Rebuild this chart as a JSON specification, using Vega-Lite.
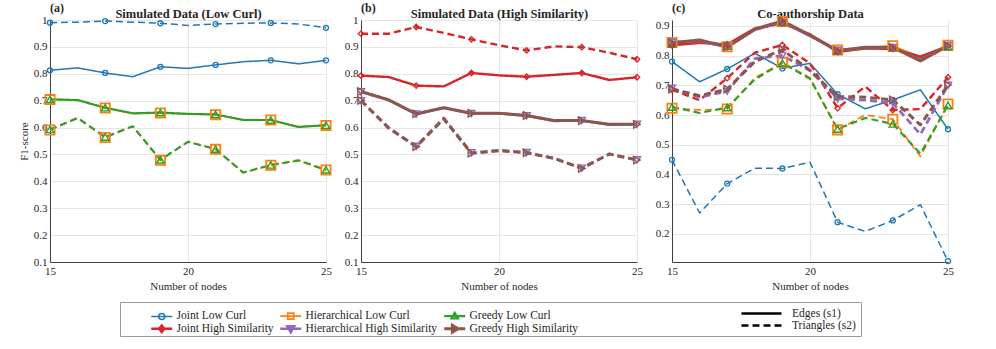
{
"$schema":"https://vega.github.io/schema/vega-lite/v6.json",
"padding":{"left":18,"top":2,"right":5,"bottom":5},
"background":"white",
"bounds":"flush",
"spacing":35,
"datasets":{
"a":[
{"x":15,"v":0.813,"s":"Joint Low Curl","m":"Edges (s1)"},{"x":16,"v":0.822,"s":"Joint Low Curl","m":"Edges (s1)"},{"x":17,"v":0.803,"s":"Joint Low Curl","m":"Edges (s1)"},{"x":18,"v":0.789,"s":"Joint Low Curl","m":"Edges (s1)"},{"x":19,"v":0.826,"s":"Joint Low Curl","m":"Edges (s1)"},{"x":20,"v":0.820,"s":"Joint Low Curl","m":"Edges (s1)"},{"x":21,"v":0.833,"s":"Joint Low Curl","m":"Edges (s1)"},{"x":22,"v":0.845,"s":"Joint Low Curl","m":"Edges (s1)"},{"x":23,"v":0.850,"s":"Joint Low Curl","m":"Edges (s1)"},{"x":24,"v":0.837,"s":"Joint Low Curl","m":"Edges (s1)"},{"x":25,"v":0.850,"s":"Joint Low Curl","m":"Edges (s1)"},
{"x":15,"v":0.990,"s":"Joint Low Curl","m":"Triangles (s2)"},{"x":16,"v":0.992,"s":"Joint Low Curl","m":"Triangles (s2)"},{"x":17,"v":0.996,"s":"Joint Low Curl","m":"Triangles (s2)"},{"x":18,"v":0.992,"s":"Joint Low Curl","m":"Triangles (s2)"},{"x":19,"v":0.988,"s":"Joint Low Curl","m":"Triangles (s2)"},{"x":20,"v":0.980,"s":"Joint Low Curl","m":"Triangles (s2)"},{"x":21,"v":0.985,"s":"Joint Low Curl","m":"Triangles (s2)"},{"x":22,"v":0.988,"s":"Joint Low Curl","m":"Triangles (s2)"},{"x":23,"v":0.989,"s":"Joint Low Curl","m":"Triangles (s2)"},{"x":24,"v":0.985,"s":"Joint Low Curl","m":"Triangles (s2)"},{"x":25,"v":0.971,"s":"Joint Low Curl","m":"Triangles (s2)"},
{"x":15,"v":0.704,"s":"Hierarchical Low Curl","m":"Edges (s1)"},{"x":16,"v":0.703,"s":"Hierarchical Low Curl","m":"Edges (s1)"},{"x":17,"v":0.673,"s":"Hierarchical Low Curl","m":"Edges (s1)"},{"x":18,"v":0.652,"s":"Hierarchical Low Curl","m":"Edges (s1)"},{"x":19,"v":0.654,"s":"Hierarchical Low Curl","m":"Edges (s1)"},{"x":20,"v":0.650,"s":"Hierarchical Low Curl","m":"Edges (s1)"},{"x":21,"v":0.648,"s":"Hierarchical Low Curl","m":"Edges (s1)"},{"x":22,"v":0.629,"s":"Hierarchical Low Curl","m":"Edges (s1)"},{"x":23,"v":0.628,"s":"Hierarchical Low Curl","m":"Edges (s1)"},{"x":24,"v":0.603,"s":"Hierarchical Low Curl","m":"Edges (s1)"},{"x":25,"v":0.608,"s":"Hierarchical Low Curl","m":"Edges (s1)"},
{"x":15,"v":0.591,"s":"Hierarchical Low Curl","m":"Triangles (s2)"},{"x":16,"v":0.635,"s":"Hierarchical Low Curl","m":"Triangles (s2)"},{"x":17,"v":0.563,"s":"Hierarchical Low Curl","m":"Triangles (s2)"},{"x":18,"v":0.604,"s":"Hierarchical Low Curl","m":"Triangles (s2)"},{"x":19,"v":0.478,"s":"Hierarchical Low Curl","m":"Triangles (s2)"},{"x":20,"v":0.548,"s":"Hierarchical Low Curl","m":"Triangles (s2)"},{"x":21,"v":0.519,"s":"Hierarchical Low Curl","m":"Triangles (s2)"},{"x":22,"v":0.432,"s":"Hierarchical Low Curl","m":"Triangles (s2)"},{"x":23,"v":0.460,"s":"Hierarchical Low Curl","m":"Triangles (s2)"},{"x":24,"v":0.477,"s":"Hierarchical Low Curl","m":"Triangles (s2)"},{"x":25,"v":0.442,"s":"Hierarchical Low Curl","m":"Triangles (s2)"},
{"x":15,"v":0.705,"s":"Greedy Low Curl","m":"Edges (s1)"},{"x":16,"v":0.702,"s":"Greedy Low Curl","m":"Edges (s1)"},{"x":17,"v":0.674,"s":"Greedy Low Curl","m":"Edges (s1)"},{"x":18,"v":0.653,"s":"Greedy Low Curl","m":"Edges (s1)"},{"x":19,"v":0.656,"s":"Greedy Low Curl","m":"Edges (s1)"},{"x":20,"v":0.651,"s":"Greedy Low Curl","m":"Edges (s1)"},{"x":21,"v":0.649,"s":"Greedy Low Curl","m":"Edges (s1)"},{"x":22,"v":0.628,"s":"Greedy Low Curl","m":"Edges (s1)"},{"x":23,"v":0.628,"s":"Greedy Low Curl","m":"Edges (s1)"},{"x":24,"v":0.602,"s":"Greedy Low Curl","m":"Edges (s1)"},{"x":25,"v":0.609,"s":"Greedy Low Curl","m":"Edges (s1)"},
{"x":15,"v":0.593,"s":"Greedy Low Curl","m":"Triangles (s2)"},{"x":16,"v":0.636,"s":"Greedy Low Curl","m":"Triangles (s2)"},{"x":17,"v":0.565,"s":"Greedy Low Curl","m":"Triangles (s2)"},{"x":18,"v":0.605,"s":"Greedy Low Curl","m":"Triangles (s2)"},{"x":19,"v":0.480,"s":"Greedy Low Curl","m":"Triangles (s2)"},{"x":20,"v":0.547,"s":"Greedy Low Curl","m":"Triangles (s2)"},{"x":21,"v":0.520,"s":"Greedy Low Curl","m":"Triangles (s2)"},{"x":22,"v":0.433,"s":"Greedy Low Curl","m":"Triangles (s2)"},{"x":23,"v":0.461,"s":"Greedy Low Curl","m":"Triangles (s2)"},{"x":24,"v":0.478,"s":"Greedy Low Curl","m":"Triangles (s2)"},{"x":25,"v":0.443,"s":"Greedy Low Curl","m":"Triangles (s2)"}
],
"b":[
{"x":15,"v":0.793,"s":"Joint High Similarity","m":"Edges (s1)"},{"x":16,"v":0.788,"s":"Joint High Similarity","m":"Edges (s1)"},{"x":17,"v":0.756,"s":"Joint High Similarity","m":"Edges (s1)"},{"x":18,"v":0.753,"s":"Joint High Similarity","m":"Edges (s1)"},{"x":19,"v":0.803,"s":"Joint High Similarity","m":"Edges (s1)"},{"x":20,"v":0.794,"s":"Joint High Similarity","m":"Edges (s1)"},{"x":21,"v":0.789,"s":"Joint High Similarity","m":"Edges (s1)"},{"x":22,"v":0.796,"s":"Joint High Similarity","m":"Edges (s1)"},{"x":23,"v":0.803,"s":"Joint High Similarity","m":"Edges (s1)"},{"x":24,"v":0.777,"s":"Joint High Similarity","m":"Edges (s1)"},{"x":25,"v":0.787,"s":"Joint High Similarity","m":"Edges (s1)"},
{"x":15,"v":0.949,"s":"Joint High Similarity","m":"Triangles (s2)"},{"x":16,"v":0.949,"s":"Joint High Similarity","m":"Triangles (s2)"},{"x":17,"v":0.974,"s":"Joint High Similarity","m":"Triangles (s2)"},{"x":18,"v":0.952,"s":"Joint High Similarity","m":"Triangles (s2)"},{"x":19,"v":0.928,"s":"Joint High Similarity","m":"Triangles (s2)"},{"x":20,"v":0.906,"s":"Joint High Similarity","m":"Triangles (s2)"},{"x":21,"v":0.887,"s":"Joint High Similarity","m":"Triangles (s2)"},{"x":22,"v":0.902,"s":"Joint High Similarity","m":"Triangles (s2)"},{"x":23,"v":0.899,"s":"Joint High Similarity","m":"Triangles (s2)"},{"x":24,"v":0.878,"s":"Joint High Similarity","m":"Triangles (s2)"},{"x":25,"v":0.854,"s":"Joint High Similarity","m":"Triangles (s2)"},
{"x":15,"v":0.733,"s":"Hierarchical High Similarity","m":"Edges (s1)"},{"x":16,"v":0.703,"s":"Hierarchical High Similarity","m":"Edges (s1)"},{"x":17,"v":0.650,"s":"Hierarchical High Similarity","m":"Edges (s1)"},{"x":18,"v":0.673,"s":"Hierarchical High Similarity","m":"Edges (s1)"},{"x":19,"v":0.652,"s":"Hierarchical High Similarity","m":"Edges (s1)"},{"x":20,"v":0.653,"s":"Hierarchical High Similarity","m":"Edges (s1)"},{"x":21,"v":0.644,"s":"Hierarchical High Similarity","m":"Edges (s1)"},{"x":22,"v":0.625,"s":"Hierarchical High Similarity","m":"Edges (s1)"},{"x":23,"v":0.626,"s":"Hierarchical High Similarity","m":"Edges (s1)"},{"x":24,"v":0.611,"s":"Hierarchical High Similarity","m":"Edges (s1)"},{"x":25,"v":0.612,"s":"Hierarchical High Similarity","m":"Edges (s1)"},
{"x":15,"v":0.700,"s":"Hierarchical High Similarity","m":"Triangles (s2)"},{"x":16,"v":0.600,"s":"Hierarchical High Similarity","m":"Triangles (s2)"},{"x":17,"v":0.530,"s":"Hierarchical High Similarity","m":"Triangles (s2)"},{"x":18,"v":0.636,"s":"Hierarchical High Similarity","m":"Triangles (s2)"},{"x":19,"v":0.506,"s":"Hierarchical High Similarity","m":"Triangles (s2)"},{"x":20,"v":0.516,"s":"Hierarchical High Similarity","m":"Triangles (s2)"},{"x":21,"v":0.507,"s":"Hierarchical High Similarity","m":"Triangles (s2)"},{"x":22,"v":0.486,"s":"Hierarchical High Similarity","m":"Triangles (s2)"},{"x":23,"v":0.449,"s":"Hierarchical High Similarity","m":"Triangles (s2)"},{"x":24,"v":0.501,"s":"Hierarchical High Similarity","m":"Triangles (s2)"},{"x":25,"v":0.480,"s":"Hierarchical High Similarity","m":"Triangles (s2)"},
{"x":15,"v":0.734,"s":"Greedy High Similarity","m":"Edges (s1)"},{"x":16,"v":0.703,"s":"Greedy High Similarity","m":"Edges (s1)"},{"x":17,"v":0.651,"s":"Greedy High Similarity","m":"Edges (s1)"},{"x":18,"v":0.674,"s":"Greedy High Similarity","m":"Edges (s1)"},{"x":19,"v":0.653,"s":"Greedy High Similarity","m":"Edges (s1)"},{"x":20,"v":0.653,"s":"Greedy High Similarity","m":"Edges (s1)"},{"x":21,"v":0.645,"s":"Greedy High Similarity","m":"Edges (s1)"},{"x":22,"v":0.626,"s":"Greedy High Similarity","m":"Edges (s1)"},{"x":23,"v":0.626,"s":"Greedy High Similarity","m":"Edges (s1)"},{"x":24,"v":0.612,"s":"Greedy High Similarity","m":"Edges (s1)"},{"x":25,"v":0.612,"s":"Greedy High Similarity","m":"Edges (s1)"},
{"x":15,"v":0.701,"s":"Greedy High Similarity","m":"Triangles (s2)"},{"x":16,"v":0.598,"s":"Greedy High Similarity","m":"Triangles (s2)"},{"x":17,"v":0.529,"s":"Greedy High Similarity","m":"Triangles (s2)"},{"x":18,"v":0.632,"s":"Greedy High Similarity","m":"Triangles (s2)"},{"x":19,"v":0.504,"s":"Greedy High Similarity","m":"Triangles (s2)"},{"x":20,"v":0.514,"s":"Greedy High Similarity","m":"Triangles (s2)"},{"x":21,"v":0.506,"s":"Greedy High Similarity","m":"Triangles (s2)"},{"x":22,"v":0.485,"s":"Greedy High Similarity","m":"Triangles (s2)"},{"x":23,"v":0.448,"s":"Greedy High Similarity","m":"Triangles (s2)"},{"x":24,"v":0.502,"s":"Greedy High Similarity","m":"Triangles (s2)"},{"x":25,"v":0.479,"s":"Greedy High Similarity","m":"Triangles (s2)"}
],
"c":[
{"x":15,"v":0.780,"s":"Joint Low Curl","m":"Edges (s1)"},{"x":16,"v":0.712,"s":"Joint Low Curl","m":"Edges (s1)"},{"x":17,"v":0.755,"s":"Joint Low Curl","m":"Edges (s1)"},{"x":18,"v":0.808,"s":"Joint Low Curl","m":"Edges (s1)"},{"x":19,"v":0.757,"s":"Joint Low Curl","m":"Edges (s1)"},{"x":20,"v":0.774,"s":"Joint Low Curl","m":"Edges (s1)"},{"x":21,"v":0.670,"s":"Joint Low Curl","m":"Edges (s1)"},{"x":22,"v":0.621,"s":"Joint Low Curl","m":"Edges (s1)"},{"x":23,"v":0.651,"s":"Joint Low Curl","m":"Edges (s1)"},{"x":24,"v":0.685,"s":"Joint Low Curl","m":"Edges (s1)"},{"x":25,"v":0.552,"s":"Joint Low Curl","m":"Edges (s1)"},
{"x":15,"v":0.449,"s":"Joint Low Curl","m":"Triangles (s2)"},{"x":16,"v":0.270,"s":"Joint Low Curl","m":"Triangles (s2)"},{"x":17,"v":0.369,"s":"Joint Low Curl","m":"Triangles (s2)"},{"x":18,"v":0.421,"s":"Joint Low Curl","m":"Triangles (s2)"},{"x":19,"v":0.420,"s":"Joint Low Curl","m":"Triangles (s2)"},{"x":20,"v":0.441,"s":"Joint Low Curl","m":"Triangles (s2)"},{"x":21,"v":0.239,"s":"Joint Low Curl","m":"Triangles (s2)"},{"x":22,"v":0.208,"s":"Joint Low Curl","m":"Triangles (s2)"},{"x":23,"v":0.245,"s":"Joint Low Curl","m":"Triangles (s2)"},{"x":24,"v":0.298,"s":"Joint Low Curl","m":"Triangles (s2)"},{"x":25,"v":0.108,"s":"Joint Low Curl","m":"Triangles (s2)"},
{"x":15,"v":0.844,"s":"Hierarchical Low Curl","m":"Edges (s1)"},{"x":16,"v":0.848,"s":"Hierarchical Low Curl","m":"Edges (s1)"},{"x":17,"v":0.830,"s":"Hierarchical Low Curl","m":"Edges (s1)"},{"x":18,"v":0.890,"s":"Hierarchical Low Curl","m":"Edges (s1)"},{"x":19,"v":0.915,"s":"Hierarchical Low Curl","m":"Edges (s1)"},{"x":20,"v":0.870,"s":"Hierarchical Low Curl","m":"Edges (s1)"},{"x":21,"v":0.819,"s":"Hierarchical Low Curl","m":"Edges (s1)"},{"x":22,"v":0.826,"s":"Hierarchical Low Curl","m":"Edges (s1)"},{"x":23,"v":0.833,"s":"Hierarchical Low Curl","m":"Edges (s1)"},{"x":24,"v":0.795,"s":"Hierarchical Low Curl","m":"Edges (s1)"},{"x":25,"v":0.835,"s":"Hierarchical Low Curl","m":"Edges (s1)"},
{"x":15,"v":0.623,"s":"Hierarchical Low Curl","m":"Triangles (s2)"},{"x":16,"v":0.617,"s":"Hierarchical Low Curl","m":"Triangles (s2)"},{"x":17,"v":0.620,"s":"Hierarchical Low Curl","m":"Triangles (s2)"},{"x":18,"v":0.725,"s":"Hierarchical Low Curl","m":"Triangles (s2)"},{"x":19,"v":0.777,"s":"Hierarchical Low Curl","m":"Triangles (s2)"},{"x":20,"v":0.725,"s":"Hierarchical Low Curl","m":"Triangles (s2)"},{"x":21,"v":0.550,"s":"Hierarchical Low Curl","m":"Triangles (s2)"},{"x":22,"v":0.600,"s":"Hierarchical Low Curl","m":"Triangles (s2)"},{"x":23,"v":0.586,"s":"Hierarchical Low Curl","m":"Triangles (s2)"},{"x":24,"v":0.460,"s":"Hierarchical Low Curl","m":"Triangles (s2)"},{"x":25,"v":0.637,"s":"Hierarchical Low Curl","m":"Triangles (s2)"},
{"x":15,"v":0.840,"s":"Greedy Low Curl","m":"Edges (s1)"},{"x":16,"v":0.845,"s":"Greedy Low Curl","m":"Edges (s1)"},{"x":17,"v":0.832,"s":"Greedy Low Curl","m":"Edges (s1)"},{"x":18,"v":0.888,"s":"Greedy Low Curl","m":"Edges (s1)"},{"x":19,"v":0.912,"s":"Greedy Low Curl","m":"Edges (s1)"},{"x":20,"v":0.868,"s":"Greedy Low Curl","m":"Edges (s1)"},{"x":21,"v":0.815,"s":"Greedy Low Curl","m":"Edges (s1)"},{"x":22,"v":0.823,"s":"Greedy Low Curl","m":"Edges (s1)"},{"x":23,"v":0.826,"s":"Greedy Low Curl","m":"Edges (s1)"},{"x":24,"v":0.790,"s":"Greedy Low Curl","m":"Edges (s1)"},{"x":25,"v":0.830,"s":"Greedy Low Curl","m":"Edges (s1)"},
{"x":15,"v":0.627,"s":"Greedy Low Curl","m":"Triangles (s2)"},{"x":16,"v":0.607,"s":"Greedy Low Curl","m":"Triangles (s2)"},{"x":17,"v":0.625,"s":"Greedy Low Curl","m":"Triangles (s2)"},{"x":18,"v":0.720,"s":"Greedy Low Curl","m":"Triangles (s2)"},{"x":19,"v":0.775,"s":"Greedy Low Curl","m":"Triangles (s2)"},{"x":20,"v":0.722,"s":"Greedy Low Curl","m":"Triangles (s2)"},{"x":21,"v":0.553,"s":"Greedy Low Curl","m":"Triangles (s2)"},{"x":22,"v":0.590,"s":"Greedy Low Curl","m":"Triangles (s2)"},{"x":23,"v":0.570,"s":"Greedy Low Curl","m":"Triangles (s2)"},{"x":24,"v":0.470,"s":"Greedy Low Curl","m":"Triangles (s2)"},{"x":25,"v":0.633,"s":"Greedy Low Curl","m":"Triangles (s2)"},
{"x":15,"v":0.835,"s":"Joint High Similarity","m":"Edges (s1)"},{"x":16,"v":0.843,"s":"Joint High Similarity","m":"Edges (s1)"},{"x":17,"v":0.838,"s":"Joint High Similarity","m":"Edges (s1)"},{"x":18,"v":0.892,"s":"Joint High Similarity","m":"Edges (s1)"},{"x":19,"v":0.908,"s":"Joint High Similarity","m":"Edges (s1)"},{"x":20,"v":0.872,"s":"Joint High Similarity","m":"Edges (s1)"},{"x":21,"v":0.812,"s":"Joint High Similarity","m":"Edges (s1)"},{"x":22,"v":0.825,"s":"Joint High Similarity","m":"Edges (s1)"},{"x":23,"v":0.822,"s":"Joint High Similarity","m":"Edges (s1)"},{"x":24,"v":0.797,"s":"Joint High Similarity","m":"Edges (s1)"},{"x":25,"v":0.832,"s":"Joint High Similarity","m":"Edges (s1)"},
{"x":15,"v":0.685,"s":"Joint High Similarity","m":"Triangles (s2)"},{"x":16,"v":0.650,"s":"Joint High Similarity","m":"Triangles (s2)"},{"x":17,"v":0.724,"s":"Joint High Similarity","m":"Triangles (s2)"},{"x":18,"v":0.810,"s":"Joint High Similarity","m":"Triangles (s2)"},{"x":19,"v":0.836,"s":"Joint High Similarity","m":"Triangles (s2)"},{"x":20,"v":0.774,"s":"Joint High Similarity","m":"Triangles (s2)"},{"x":21,"v":0.623,"s":"Joint High Similarity","m":"Triangles (s2)"},{"x":22,"v":0.696,"s":"Joint High Similarity","m":"Triangles (s2)"},{"x":23,"v":0.617,"s":"Joint High Similarity","m":"Triangles (s2)"},{"x":24,"v":0.620,"s":"Joint High Similarity","m":"Triangles (s2)"},{"x":25,"v":0.727,"s":"Joint High Similarity","m":"Triangles (s2)"},
{"x":15,"v":0.845,"s":"Hierarchical High Similarity","m":"Edges (s1)"},{"x":16,"v":0.850,"s":"Hierarchical High Similarity","m":"Edges (s1)"},{"x":17,"v":0.828,"s":"Hierarchical High Similarity","m":"Edges (s1)"},{"x":18,"v":0.887,"s":"Hierarchical High Similarity","m":"Edges (s1)"},{"x":19,"v":0.913,"s":"Hierarchical High Similarity","m":"Edges (s1)"},{"x":20,"v":0.866,"s":"Hierarchical High Similarity","m":"Edges (s1)"},{"x":21,"v":0.818,"s":"Hierarchical High Similarity","m":"Edges (s1)"},{"x":22,"v":0.827,"s":"Hierarchical High Similarity","m":"Edges (s1)"},{"x":23,"v":0.827,"s":"Hierarchical High Similarity","m":"Edges (s1)"},{"x":24,"v":0.785,"s":"Hierarchical High Similarity","m":"Edges (s1)"},{"x":25,"v":0.834,"s":"Hierarchical High Similarity","m":"Edges (s1)"},
{"x":15,"v":0.690,"s":"Hierarchical High Similarity","m":"Triangles (s2)"},{"x":16,"v":0.660,"s":"Hierarchical High Similarity","m":"Triangles (s2)"},{"x":17,"v":0.680,"s":"Hierarchical High Similarity","m":"Triangles (s2)"},{"x":18,"v":0.790,"s":"Hierarchical High Similarity","m":"Triangles (s2)"},{"x":19,"v":0.800,"s":"Hierarchical High Similarity","m":"Triangles (s2)"},{"x":20,"v":0.750,"s":"Hierarchical High Similarity","m":"Triangles (s2)"},{"x":21,"v":0.655,"s":"Hierarchical High Similarity","m":"Triangles (s2)"},{"x":22,"v":0.650,"s":"Hierarchical High Similarity","m":"Triangles (s2)"},{"x":23,"v":0.640,"s":"Hierarchical High Similarity","m":"Triangles (s2)"},{"x":24,"v":0.535,"s":"Hierarchical High Similarity","m":"Triangles (s2)"},{"x":25,"v":0.700,"s":"Hierarchical High Similarity","m":"Triangles (s2)"},
{"x":15,"v":0.843,"s":"Greedy High Similarity","m":"Edges (s1)"},{"x":16,"v":0.853,"s":"Greedy High Similarity","m":"Edges (s1)"},{"x":17,"v":0.830,"s":"Greedy High Similarity","m":"Edges (s1)"},{"x":18,"v":0.889,"s":"Greedy High Similarity","m":"Edges (s1)"},{"x":19,"v":0.917,"s":"Greedy High Similarity","m":"Edges (s1)"},{"x":20,"v":0.869,"s":"Greedy High Similarity","m":"Edges (s1)"},{"x":21,"v":0.817,"s":"Greedy High Similarity","m":"Edges (s1)"},{"x":22,"v":0.828,"s":"Greedy High Similarity","m":"Edges (s1)"},{"x":23,"v":0.828,"s":"Greedy High Similarity","m":"Edges (s1)"},{"x":24,"v":0.782,"s":"Greedy High Similarity","m":"Edges (s1)"},{"x":25,"v":0.833,"s":"Greedy High Similarity","m":"Edges (s1)"},
{"x":15,"v":0.687,"s":"Greedy High Similarity","m":"Triangles (s2)"},{"x":16,"v":0.665,"s":"Greedy High Similarity","m":"Triangles (s2)"},{"x":17,"v":0.687,"s":"Greedy High Similarity","m":"Triangles (s2)"},{"x":18,"v":0.780,"s":"Greedy High Similarity","m":"Triangles (s2)"},{"x":19,"v":0.820,"s":"Greedy High Similarity","m":"Triangles (s2)"},{"x":20,"v":0.750,"s":"Greedy High Similarity","m":"Triangles (s2)"},{"x":21,"v":0.662,"s":"Greedy High Similarity","m":"Triangles (s2)"},{"x":22,"v":0.660,"s":"Greedy High Similarity","m":"Triangles (s2)"},{"x":23,"v":0.651,"s":"Greedy High Similarity","m":"Triangles (s2)"},{"x":24,"v":0.567,"s":"Greedy High Similarity","m":"Triangles (s2)"},{"x":25,"v":0.701,"s":"Greedy High Similarity","m":"Triangles (s2)"}
]
},
"hconcat":[
{"width":276,"height":242,
 "title":{"text":"(a)","anchor":"start","frame":"group","offset":-8},
 "data":{"name":"a"},
 "layer":[
  {"mark":{"type":"line","strokeJoin":"round"},
   "encoding":{
    "x":{"field":"x","type":"quantitative","scale":{"domain":[15,25],"nice":false},"axis":{"values":[15,20,25],"title":"Number of nodes"}},
    "y":{"field":"v","type":"quantitative","scale":{"domain":[0.1,1],"nice":false,"zero":false},"axis":{"values":[0.1,0.2,0.3,0.4,0.5,0.6,0.7,0.8,0.9,1],"tickCount":20,"format":"~g","title":"F1-score"}},
    "color":{"field":"s","type":"nominal","scale":{"domain":["Joint Low Curl","Hierarchical Low Curl","Greedy Low Curl","Joint High Similarity","Hierarchical High Similarity","Greedy High Similarity"],"range":["#1f77b4","#ff7f0e","#2ca02c","#d62728","#9467bd","#8c564b"]},
      "legend":{"title":null,"orient":"none","legendX":106,"legendY":290,"direction":"horizontal","columns":3,"columnPadding":0,"rowPadding":-4,"padding":0,"symbolSize":36,"symbolStrokeWidth":1.1,"symbolFillColor":"transparent","labelOffset":9,"labelLimit":300,"labelFontSize":11.5,
       "encode":{"symbols":{"update":{"fill":{"value":"transparent"}}}}}},
    "strokeDash":{"field":"m","type":"nominal","scale":{"domain":["Edges (s1)","Triangles (s2)"],"range":[[1,0],[7,4]]},
      "legend":{"title":" ","titleOrient":"left","titlePadding":630,"orient":"none","legendX":70,"legendY":282,"direction":"vertical","symbolType":"M-4,0H4","symbolSize":100,"symbolStrokeColor":"black","symbolStrokeWidth":2.5,"labelOffset":24,"rowPadding":-3,"padding":5,"strokeColor":"#9a9a9a","labelFontSize":11.5}},
    "strokeWidth":{"field":"s","type":"nominal","scale":{"domain":["Joint Low Curl","Hierarchical Low Curl","Greedy Low Curl","Joint High Similarity","Hierarchical High Similarity","Greedy High Similarity"],"range":[1.5,3,1.8,1.5,1.8,1.8]},"legend":null}
   }},
  {"transform":[{"filter":"false"}],
   "mark":{"type":"point","filled":false,"opacity":1},
   "encoding":{
    "x":{"field":"x","type":"quantitative","axis":{"orient":"top","title":"Simulated Data (Low Curl)","labels":false,"ticks":false,"domain":false,"grid":false,"titleFontWeight":"bold","titleFontSize":12.5,"titlePadding":0,"labelPadding":0}},
    "y":{"field":"v","type":"quantitative"},
    "color":{"field":"s","type":"nominal"},
    "shape":{"field":"s","type":"nominal","scale":{"domain":["Joint Low Curl","Hierarchical Low Curl","Greedy Low Curl","Joint High Similarity","Hierarchical High Similarity","Greedy High Similarity"],"range":["M-3.5,0H3.5M1,0A1,1,0,1,1,-1,0A1,1,0,1,1,1,0Z","M-3.5,0H3.5M-1,-1H1V1H-1Z","M-3.5,0H3.5M0,-1.1L1.1,0.8L-1.1,0.8Z","M-3.5,0H3.5M0,-1.1L0.9,0L0,1.1L-0.9,0Z","M-3.5,0H3.5M0,1.1L1.1,-0.8L-1.1,-0.8Z","M-3.5,0H3.5M1.1,0L-0.8,1.1L-0.8,-1.1Z"]}}
   }},
  {"transform":[{"filter":"datum.s == 'Joint Low Curl' && datum.x % 2 == 1"}],
   "mark":{"type":"point","shape":"circle","size":25,"filled":false,"strokeWidth":1.3,"opacity":1},
   "encoding":{"x":{"field":"x","type":"quantitative","axis":null},"y":{"field":"v","type":"quantitative"},"color":{"field":"s","type":"nominal"}}},
  {"transform":[{"filter":"datum.s == 'Hierarchical Low Curl' && datum.x % 2 == 1"}],
   "mark":{"type":"point","shape":"square","size":85,"filled":false,"strokeWidth":1.8,"opacity":1},
   "encoding":{"x":{"field":"x","type":"quantitative","axis":null},"y":{"field":"v","type":"quantitative"},"color":{"field":"s","type":"nominal"}}},
  {"transform":[{"filter":"datum.s == 'Greedy Low Curl' && datum.x % 2 == 1"}],
   "mark":{"type":"point","shape":"triangle-up","size":55,"filled":false,"strokeWidth":1.4,"opacity":1},
   "encoding":{"x":{"field":"x","type":"quantitative","axis":null},"y":{"field":"v","type":"quantitative"},"color":{"field":"s","type":"nominal"}}}
 ],
 "resolve":{"axis":{"x":"independent"}}
},
{"width":276,"height":242,
 "title":{"text":"(b)","anchor":"start","frame":"group","offset":-8},
 "data":{"name":"b"},
 "layer":[
  {"mark":{"type":"line","strokeJoin":"round"},
   "encoding":{
    "x":{"field":"x","type":"quantitative","scale":{"domain":[15,25],"nice":false},"axis":{"values":[15,20,25],"title":"Number of nodes"}},
    "y":{"field":"v","type":"quantitative","scale":{"domain":[0.1,1],"nice":false,"zero":false},"axis":{"values":[0.1,0.2,0.3,0.4,0.5,0.6,0.7,0.8,0.9,1],"tickCount":20,"format":"~g","title":null}},
    "color":{"field":"s","type":"nominal"},
    "strokeDash":{"field":"m","type":"nominal"},
    "strokeWidth":{"field":"s","type":"nominal","legend":null}
   }},
  {"transform":[{"filter":"false"}],
   "mark":{"type":"point","filled":false,"opacity":1},
   "encoding":{
    "x":{"field":"x","type":"quantitative","axis":{"orient":"top","title":"Simulated Data (High Similarity)","labels":false,"ticks":false,"domain":false,"grid":false,"titleFontWeight":"bold","titleFontSize":12.5,"titlePadding":0,"labelPadding":0}},
    "y":{"field":"v","type":"quantitative"},
    "color":{"field":"s","type":"nominal"},
    "shape":{"field":"s","type":"nominal"}
   }},
  {"transform":[{"filter":"datum.s == 'Joint High Similarity' && datum.x % 2 == 1"}],
   "mark":{"type":"point","shape":"diamond","size":30,"filled":false,"strokeWidth":1.3,"opacity":1},
   "encoding":{"x":{"field":"x","type":"quantitative","axis":null},"y":{"field":"v","type":"quantitative"},"color":{"field":"s","type":"nominal"}}},
  {"transform":[{"filter":"datum.s == 'Hierarchical High Similarity' && datum.x % 2 == 1"}],
   "mark":{"type":"point","shape":"triangle-down","size":50,"filled":false,"strokeWidth":1.4,"opacity":1},
   "encoding":{"x":{"field":"x","type":"quantitative","axis":null},"y":{"field":"v","type":"quantitative"},"color":{"field":"s","type":"nominal"}}},
  {"transform":[{"filter":"datum.s == 'Greedy High Similarity' && datum.x % 2 == 1"}],
   "mark":{"type":"point","shape":"triangle-right","size":55,"filled":false,"strokeWidth":1.4,"opacity":1},
   "encoding":{"x":{"field":"x","type":"quantitative","axis":null},"y":{"field":"v","type":"quantitative"},"color":{"field":"s","type":"nominal"}}}
 ],
 "resolve":{"axis":{"x":"independent"}}
},
{"width":276,"height":242,
 "title":{"text":"(c)","anchor":"start","frame":"group","offset":-8},
 "data":{"name":"c"},
 "layer":[
  {"mark":{"type":"line","strokeJoin":"round"},
   "encoding":{
    "x":{"field":"x","type":"quantitative","scale":{"domain":[15,25],"nice":false},"axis":{"values":[15,20,25],"title":"Number of nodes"}},
    "y":{"field":"v","type":"quantitative","scale":{"domain":[0.105,0.92],"nice":false,"zero":false},"axis":{"values":[0.2,0.3,0.4,0.5,0.6,0.7,0.8,0.9],"tickCount":20,"format":"~g","title":null}},
    "color":{"field":"s","type":"nominal"},
    "strokeDash":{"field":"m","type":"nominal"},
    "strokeWidth":{"field":"s","type":"nominal","legend":null}
   }},
  {"transform":[{"filter":"false"}],
   "mark":{"type":"point","filled":false,"opacity":1},
   "encoding":{
    "x":{"field":"x","type":"quantitative","axis":{"orient":"top","title":"Co-authorship Data","labels":false,"ticks":false,"domain":false,"grid":false,"titleFontWeight":"bold","titleFontSize":12.5,"titlePadding":0,"labelPadding":0}},
    "y":{"field":"v","type":"quantitative"},
    "color":{"field":"s","type":"nominal"},
    "shape":{"field":"s","type":"nominal"}
   }},
  {"transform":[{"filter":"datum.s == 'Joint Low Curl' && datum.x % 2 == 1"}],
   "mark":{"type":"point","shape":"circle","size":25,"filled":false,"strokeWidth":1.3,"opacity":1},
   "encoding":{"x":{"field":"x","type":"quantitative","axis":null},"y":{"field":"v","type":"quantitative"},"color":{"field":"s","type":"nominal"}}},
  {"transform":[{"filter":"datum.s == 'Hierarchical Low Curl' && datum.x % 2 == 1"}],
   "mark":{"type":"point","shape":"square","size":85,"filled":false,"strokeWidth":1.8,"opacity":1},
   "encoding":{"x":{"field":"x","type":"quantitative","axis":null},"y":{"field":"v","type":"quantitative"},"color":{"field":"s","type":"nominal"}}},
  {"transform":[{"filter":"datum.s == 'Greedy Low Curl' && datum.x % 2 == 1"}],
   "mark":{"type":"point","shape":"triangle-up","size":55,"filled":false,"strokeWidth":1.4,"opacity":1},
   "encoding":{"x":{"field":"x","type":"quantitative","axis":null},"y":{"field":"v","type":"quantitative"},"color":{"field":"s","type":"nominal"}}},
  {"transform":[{"filter":"datum.s == 'Joint High Similarity' && datum.x % 2 == 1"}],
   "mark":{"type":"point","shape":"diamond","size":30,"filled":false,"strokeWidth":1.3,"opacity":1},
   "encoding":{"x":{"field":"x","type":"quantitative","axis":null},"y":{"field":"v","type":"quantitative"},"color":{"field":"s","type":"nominal"}}},
  {"transform":[{"filter":"datum.s == 'Hierarchical High Similarity' && datum.x % 2 == 1"}],
   "mark":{"type":"point","shape":"triangle-down","size":50,"filled":false,"strokeWidth":1.4,"opacity":1},
   "encoding":{"x":{"field":"x","type":"quantitative","axis":null},"y":{"field":"v","type":"quantitative"},"color":{"field":"s","type":"nominal"}}},
  {"transform":[{"filter":"datum.s == 'Greedy High Similarity' && datum.x % 2 == 1"}],
   "mark":{"type":"point","shape":"triangle-right","size":55,"filled":false,"strokeWidth":1.4,"opacity":1},
   "encoding":{"x":{"field":"x","type":"quantitative","axis":null},"y":{"field":"v","type":"quantitative"},"color":{"field":"s","type":"nominal"}}}
 ],
 "resolve":{"axis":{"x":"independent"}}
}
],
"resolve":{"scale":{"x":"independent","y":"independent"}},
"config":{
 "font":"Liberation Serif",
 "view":{"stroke":null},
 "axis":{"labelFont":"Liberation Serif","titleFont":"Liberation Serif","labelFontSize":11,"titleFontSize":11,"titleFontWeight":"normal","labelColor":"#262626","titleColor":"#262626","domainColor":"#404040","gridColor":"#e6e6e6","ticks":false,"labelPadding":3,"labelFlush":false,"labelOverlap":false},
 "axisY":{"titlePadding":4},
 "axisX":{"titlePadding":4},
 "title":{"font":"Liberation Serif","fontSize":12,"fontWeight":"bold","color":"#262626"},
 "legend":{"labelFont":"Liberation Serif","labelFontSize":11.5,"labelColor":"#262626"}
}
}
